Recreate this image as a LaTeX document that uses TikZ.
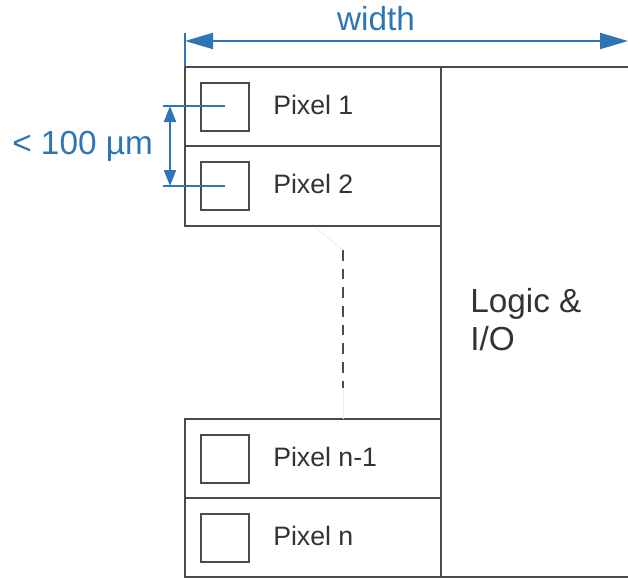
\documentclass[tikz,border=0pt]{standalone}
\usepackage{fontspec}
\setmainfont{Liberation Sans}
\usetikzlibrary{arrows.meta}

\definecolor{dimblue}{RGB}{46,117,182}
\definecolor{chipgray}{RGB}{75,75,75}
\definecolor{textgray}{RGB}{51,51,51}

\begin{document}
\begin{tikzpicture}[x=0.75pt,y=-0.75pt,
  outline/.style={draw=chipgray,line width=1.1pt},
  dimline/.style={draw=dimblue,line width=1.5pt},
  pixlabel/.style={text=textgray,font=\fontsize{20}{24}\selectfont,anchor=west,inner sep=0pt},
  biglabel/.style={font=\fontsize{25}{30}\selectfont,anchor=base west,inner sep=0pt}
]
\useasboundingbox (0,0) rectangle (628,579);

% Pixel rows
\foreach \ya/\yb/\txt/\nm in {67/146/Pixel 1/p1, 146/226/Pixel 2/p2,
                               419/498/Pixel n-1/pn1, 498/577/Pixel n/pn}{
  \draw[outline] (185,\ya) rectangle (441,\yb);
  \draw[outline] (201,\ya+16) rectangle (249,\ya+64);
  \node[pixlabel] (\nm) at (273,{(\ya+\yb)/2-2}) {\txt};
}

% Logic block
\draw[outline] (441,67) -- (628,67);
\draw[outline] (441,577) -- (628,577);
\draw[outline] (441,226) -- (441,419);
\node[biglabel,text=textgray] (logic) at (470,312) {Logic \&};
\node[biglabel,text=textgray] (io) at (470,350) {I/O};

% Ellipsis between rows
\draw[chipgray,line width=1.1pt,dash pattern=on 8pt off 6pt] (343,250) -- (343,388);
\draw[gray!15,line width=0.6pt] (315,227) -- (343,250);
\draw[gray!15,line width=0.6pt] (343,388) -- (343,419);

% Width dimension
\draw[dimline] (185,33) -- (185,67);
\draw[dimline,{Triangle[length=21pt,width=12pt]}-{Triangle[length=21pt,width=12pt]}]
  (185,41) -- (628,41);
\node[biglabel,text=dimblue,anchor=base] (width) at (376,30) {width};

% Pitch dimension
\draw[dimline] (163,106) -- (225,106);
\draw[dimline] (163,186) -- (225,186);
\draw[dimline,{Triangle[length=12pt,width=9pt]}-{Triangle[length=12pt,width=9pt]}]
  (170,106) -- (170,186);
\node[biglabel,text=dimblue] (pitch) at (12,154) {< 100 µm};

\end{tikzpicture}
\end{document}
